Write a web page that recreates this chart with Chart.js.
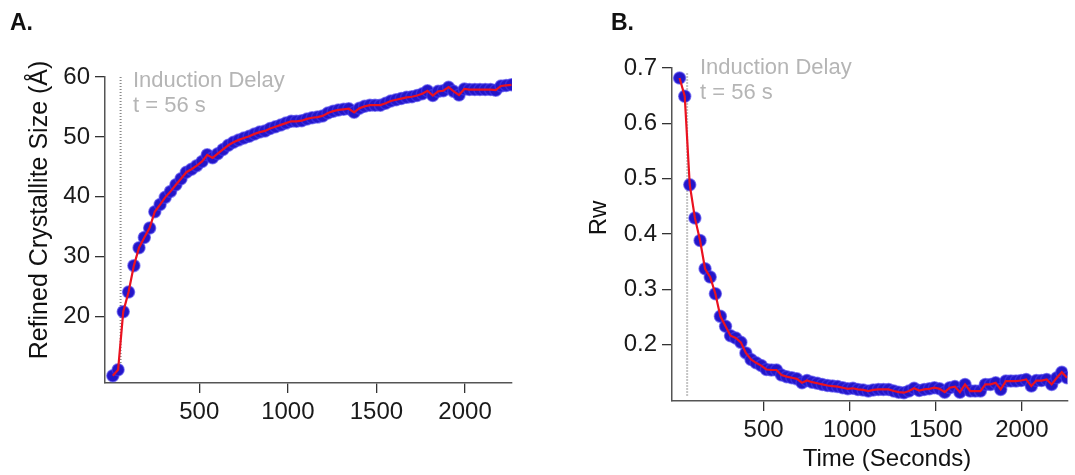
<!DOCTYPE html>
<html>
<head>
<meta charset="utf-8">
<script src="https://cdn.jsdelivr.net/npm/chart.js@4.4.0/dist/chart.umd.min.js"></script>
<style>
  html, body { margin: 0; padding: 0; background: #fff; }
  #wrap { position: relative; width: 1075px; height: 475px; overflow: hidden; font-family: "Liberation Sans", Arial, sans-serif; }
  canvas { position: absolute; top: 0; }
  .lbl { position: absolute; white-space: nowrap; line-height: 1; }
  .panel { font-weight: bold; font-size: 23px; color: #111; }
  .note { font-size: 22px; color: #b5b5b5; line-height: 25px; }
  .title { font-size: 24px; color: #111; transform: translate(-50%, -50%); }
  .rot { transform: translate(-50%, -50%) rotate(-90deg); }
</style>
</head>
<body>
<div id="wrap">
  <canvas id="chartA" width="540" height="475" style="left:0px"></canvas>
  <canvas id="chartB" width="535" height="475" style="left:540px"></canvas>
  <div class="lbl panel" style="left:10px; top:11px;">A.</div>
  <div class="lbl panel" style="left:611px; top:11px;">B.</div>
  <div class="lbl note" style="left:133px; top:67px;">Induction Delay<br>t = 56 s</div>
  <div class="lbl note" style="left:700px; top:54px;">Induction Delay<br>t = 56 s</div>
  <div class="lbl title rot" style="left:38px; top:210px; font-size:25px;">Refined Crystallite Size (Å)</div>
  <div class="lbl title rot" style="left:598px; top:218px;">Rw</div>
  <div class="lbl title" style="left:887px; top:458px;">Time (Seconds)</div>
</div>
<script>
// ---- Data ----
const timeSeconds = [12, 42, 71, 101, 131, 160, 190, 220, 249, 279, 308, 338,
  368, 397, 427, 456, 486, 516, 545, 575, 604, 634, 664, 693, 723,
  752, 782, 812, 841, 871, 900, 930, 960, 989, 1019,
  1048, 1078, 1108, 1137, 1167, 1196, 1226, 1256, 1285, 1315,
  1344, 1374, 1404, 1433, 1463, 1492, 1522, 1552, 1581, 1611,
  1640, 1670, 1700, 1729, 1759, 1788, 1818, 1848, 1877, 1907,
  1936, 1966, 1996, 2025, 2055, 2084, 2114, 2144, 2173, 2203,
  2232, 2262];

const crystalliteSize = [10.1, 11.1, 20.8, 24.1, 28.5, 31.5, 33.2, 34.8, 37.5, 38.7, 39.9, 40.9,
  42.0, 43.0, 44.1, 44.6, 45.2, 45.9, 47.0, 46.5, 47.2, 47.9, 48.6, 49.1, 49.5,
  49.8, 50.1, 50.5, 50.8, 51.0, 51.4, 51.7, 52.0, 52.3, 52.6,
  52.6, 52.7, 53.0, 53.2, 53.3, 53.5, 54.0, 54.3, 54.5, 54.6,
  54.7, 54.1, 54.8, 55.1, 55.3, 55.3, 55.3, 55.6, 56.0, 56.2,
  56.4, 56.6, 56.7, 56.9, 57.2, 57.7, 56.9, 57.6, 57.7, 58.3,
  57.6, 57.0, 58.0, 57.9, 57.9, 57.9, 57.9, 57.9, 57.8, 58.5,
  58.6, 58.7];

const rwValues = [0.682, 0.649, 0.489, 0.429, 0.388, 0.337, 0.322, 0.292, 0.251, 0.233, 0.216, 0.212,
  0.204, 0.185, 0.173, 0.167, 0.162, 0.155, 0.154, 0.154, 0.145, 0.142, 0.140, 0.138, 0.131,
  0.135, 0.132, 0.130, 0.128, 0.126, 0.125, 0.124, 0.122, 0.120, 0.121,
  0.119, 0.118, 0.116, 0.118, 0.119, 0.119, 0.119, 0.116, 0.114, 0.113,
  0.116, 0.121, 0.117, 0.119, 0.120, 0.122, 0.120, 0.114, 0.122, 0.124,
  0.114, 0.128, 0.116, 0.116, 0.116, 0.128, 0.128, 0.131, 0.119, 0.134,
  0.134, 0.134, 0.135, 0.137, 0.125, 0.135, 0.135, 0.137, 0.128, 0.140,
  0.150, 0.140];

const inductionTime = 56;
const inductionSpanA = [60, 10.3];
const inductionSpanB = [0.69, 0.105];

const xTickValues = [500, 1000, 1500, 2000];
const yTickValuesA = [20, 30, 40, 50, 60];
const yTickValuesB = [0.2, 0.3, 0.4, 0.5, 0.6, 0.7];

// ---- Styling / build ----
const FONT = '"Liberation Sans", Arial, sans-serif';
const toXY = (ys) => timeSeconds.map((t, i) => ({ x: t, y: ys[i] }));

function makeChart(id, ys, span, yMin, yMax, yTicks, pad, yWidth, xHeight, yFmt) {
  const pts = toXY(ys);
  return new Chart(document.getElementById(id), {
    type: 'line',
    data: {
      datasets: [
        { // red connecting line, drawn on top
          data: pts, borderColor: '#ea1220', borderWidth: 2.2, pointRadius: 0,
          fill: false, tension: 0
        },
        { // blue markers
          data: pts, showLine: false, pointRadius: 6, pointHoverRadius: 6,
          pointBackgroundColor: 'rgb(36,22,200)', pointBorderColor: 'rgba(70,60,235,0.6)',
          pointBorderWidth: 1.5
        },
        { // induction delay marker line
          data: [{ x: inductionTime, y: span[0] }, { x: inductionTime, y: span[1] }],
          borderColor: '#8a8a8a', borderWidth: 2, borderDash: [1, 2], pointRadius: 0, fill: false
        }
      ]
    },
    options: {
      responsive: false, animation: false, devicePixelRatio: 1,
      layout: { padding: pad },
      plugins: { legend: { display: false }, tooltip: { enabled: false } },
      scales: {
        x: {
          type: 'linear', min: -32, max: 2265,
          afterBuildTicks: (s) => { s.ticks = xTickValues.map(v => ({ value: v })); },
          afterFit: (s) => { s.height = xHeight; },
          grid: { drawOnChartArea: false, drawTicks: true, tickLength: 10, color: '#333', lineWidth: 1.3 },
          border: { display: true, color: '#555', width: 1.5 },
          ticks: { color: '#1a1a1a', font: { family: FONT, size: 24 }, padding: 5, maxRotation: 0, autoSkip: false,
                   callback: (v) => String(v) }
        },
        y: {
          type: 'linear', min: yMin, max: yMax,
          afterBuildTicks: (s) => { s.ticks = yTicks.map(v => ({ value: v })); },
          afterFit: (s) => { s.width = yWidth; },
          grid: { drawOnChartArea: false, drawTicks: true, tickLength: 10, color: '#333', lineWidth: 1.3 },
          border: { display: true, color: '#555', width: 1.5 },
          ticks: { color: '#1a1a1a', font: { family: FONT, size: 24 }, padding: 5, autoSkip: false, callback: yFmt }
        }
      }
    }
  });
}

makeChart('chartA', crystalliteSize, inductionSpanA, 8.9, 60, yTickValuesA,
  { left: 0, top: 77, right: 28, bottom: 0 }, 105, 92, (v) => String(v));
makeChart('chartB', rwValues, inductionSpanB, 0.098, 0.7, yTickValuesB,
  { left: 0, top: 68, right: 3, bottom: 0 }, 132, 74, (v) => v.toFixed(1));
</script>
</body>
</html>
